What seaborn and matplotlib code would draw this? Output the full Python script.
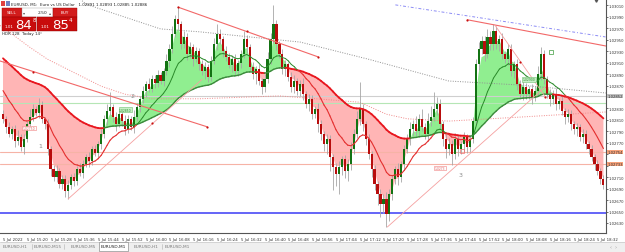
import numpy as np
import pandas as pd
import matplotlib
matplotlib.use("Agg")
import matplotlib.pyplot as plt
import seaborn as sns
from matplotlib.collections import LineCollection
from matplotlib.patches import Rectangle

# ---------------- data (prices given in points above 1.02600) ----------------
BASE = 1.02600
first_open = 220
closes = [
    211, 197, 185, 194, 173, 180, 162, 176, 203, 215,
    229, 222, 236, 211, 203, 159, 124, 110, 121, 98,
    107, 86, 96, 110, 103, 124, 117, 133, 145, 138,
    159, 152, 168, 185, 211, 225, 232, 215, 203, 220,
    208, 194, 211, 197, 215, 232, 246, 260, 272, 264,
    281, 274, 288, 278, 295, 313, 334, 360, 386, 377,
    342, 355, 325, 337, 316, 330, 307, 295, 302, 285,
    313, 342, 360, 351, 330, 320, 306, 316, 295, 309,
    325, 351, 337, 302, 290, 299, 278, 267, 281, 316,
    351, 377, 342, 325, 299, 307, 285, 267, 278, 260,
    272, 255, 238, 246, 220, 229, 203, 185, 168, 176,
    145, 128, 115, 128, 141, 121, 133, 159, 185, 211,
    229, 203, 176, 150, 124, 98, 80, 63, 72, 45,
    80, 107, 124, 110, 133, 159, 176, 194, 203, 190,
    211, 197, 185, 208, 215, 229, 238, 203, 176, 159,
    168, 150, 176, 159, 168, 180, 162, 176, 208, 307,
    334, 348, 325, 355, 342, 365, 342, 351, 325, 316,
    334, 295, 307, 272, 255, 267, 255, 264, 250, 260,
    290, 325, 281, 255, 246, 255, 238, 243, 225, 215,
    220, 203, 194, 197, 180, 185, 168, 159, 145, 133,
    121, 107, 96]
wick_hi = [
    8, 6, 10, 5, 7, 12, 6, 9, 5, 14,
    8, 6, 12, 7, 5, 9, 6, 8, 10, 5,
    7, 6, 9, 5, 8, 6, 10, 7, 5, 9,
    6, 8, 5, 10, 7, 12, 27, 6, 9, 8,
    5, 10, 7, 6, 12, 8, 5, 9, 6, 11,
    7, 8, 10, 6, 5, 12, 9, 14, 8, 21,
    6, 10, 7, 9, 5, 8, 6, 7, 10, 5,
    9, 12, 17, 8, 6, 10, 7, 5, 9, 6,
    8, 14, 7, 6, 10, 5, 8, 6, 9, 12,
    10, 33, 8, 6, 9, 7, 5, 8, 10, 6,
    7, 12, 6, 9, 8, 5, 10, 7, 6, 9,
    8, 5, 7, 10, 6, 8, 9, 12, 10, 14,
    47, 8, 6, 9, 5, 7, 6, 10, 8, 12,
    9, 7, 6, 10, 5, 8, 9, 12, 7, 14,
    10, 18, 8, 15, 20, 30, 12, 8, 6, 9,
    10, 7, 12, 8, 6, 9, 5, 8, 7, 10,
    12, 9, 8, 14, 10, 12, 9, 7, 10, 6,
    8, 9, 6, 10, 7, 12, 8, 6, 9, 10,
    14, 12, 8, 6, 9, 7, 10, 5, 8, 6,
    9, 7, 5, 8, 6, 10, 7, 5, 8, 6,
    7, 5, 6]
wick_lo = [
    6, 9, 5, 8, 10, 6, 7, 12, 5, 8,
    7, 5, 9, 6, 8, 10, 12, 7, 9, 6,
    8, 10, 14, 6, 9, 7, 5, 8, 6, 10,
    7, 5, 9, 8, 6, 10, 7, 9, 12, 6,
    8, 10, 7, 5, 9, 6, 8, 7, 10, 5,
    6, 9, 7, 5, 8, 6, 10, 7, 5, 9,
    8, 6, 10, 7, 12, 5, 9, 6, 14, 8,
    7, 6, 9, 8, 10, 7, 5, 12, 6, 9,
    8, 7, 10, 6, 9, 18, 7, 12, 8, 6,
    9, 7, 10, 6, 8, 12, 7, 9, 10, 6,
    8, 10, 7, 12, 9, 6, 14, 10, 12, 18,
    25, 40, 20, 35, 15, 12, 18, 10, 8, 6,
    9, 12, 10, 8, 14, 10, 18, 22, 15, 22,
    12, 10, 9, 14, 8, 10, 7, 9, 12, 8,
    10, 7, 9, 12, 8, 6, 10, 9, 12, 15,
    10, 18, 8, 12, 9, 14, 10, 8, 7, 6,
    10, 8, 12, 7, 9, 10, 8, 12, 9, 7,
    10, 8, 12, 9, 7, 10, 8, 9, 12, 7,
    8, 10, 9, 7, 12, 8, 10, 9, 7, 12,
    8, 10, 9, 12, 7, 10, 8, 9, 7, 10,
    8, 9, 7]

# moving-average settings and starting values read from the left edge
FAST_N, MID_N, SLOW_N = 3, 14, 50
mid_seed, slow_seed = 269, 322

# long dotted averages (bar index, points)
grey_ma_bar = [26, 28, 53, 66, 100, 123, 150, 174, 203]
grey_ma_pts = [421, 412, 369, 364, 346, 316, 278, 271, 257]
pink_ma_bar = [-1, 2, 9, 15, 33, 41, 50, 66, 93, 120, 129, 136, 150, 174, 203]
pink_ma_pts = [375, 364, 337, 316, 269, 255, 247, 247, 252, 241, 220, 212, 208, 215, 224]

# trend lines: bar0, pts0, bar1, pts1
trend_red = [(-1.0, 313, 68.7, 198), (58.9, 407, 106.1, 320), (156.2, 385, 203, 339)]
trend_pink = [(165.7, 374, 182.5, 250), (129.3, 23, 182.5, 268), (21.9, 72, 67, 281)]
trend_blue = (132, 411, 202.7, 355)
dot_bar = [68.7, 10.1, 58.9, 106.1, 82.0, 156.2, 174.0, 182.5, 50.2]
dot_pts = [198, 294, 407, 320, 366, 385, 311, 250, 205]

# horizontal lines (points)
hl_grey, hl_green, hl_sal1, hl_sal2, hl_blue = 252, 240, 154, 133, 47

# labels
wave_labels = ["1", "2", "3"]
wave_bar = [12.5, 43.4, 153.9]
wave_pts = [166, 253, 115]

x_tick_bars = list(range(0, 201, 8))
x_tick_labels = ["5 Jul 2022"] + [
    "5 Jul %d:%02d" % ((15 * 60 + 12 + b) // 60, (15 * 60 + 12 + b) % 60) for b in x_tick_bars[1:]]
y_tick_pts = list(range(30, 411, 20))
y_hidden_pts = [130, 150, 250]   # scale labels covered by the line price tags

tab_names = ["EURUSD,H1", "EURUSD,M15", "EURUSD,M5", "EURUSD,M1", "EURUSD,H1", "EURUSD,M1"]
tab_x0 = [3, 36, 71, 99, 135, 166]
tab_x1 = [28, 60, 95, 128, 158, 189]

# ---------------- helpers ----------------
def P(v):
    return BASE + np.asarray(v, dtype=float) / 1e5

def ema(vals, n, seed):
    a = 2.0 / (n + 1)
    out, prev = [], seed
    for v in vals:
        prev = prev + a * (v - prev)
        out.append(prev)
    return np.array(out)

n = len(closes)
idx = np.arange(n)
opens = [first_open] + closes[:-1]
c = np.array(closes, float)
o = np.array(opens, float)
hi = np.maximum(o, c) + np.array(wick_hi)
lo = np.minimum(o, c) - np.array(wick_lo)

fast = ema(closes, FAST_N, closes[0])
mid = ema(closes, MID_N, mid_seed)
slow = ema(closes, SLOW_N, slow_seed)

W, H = 625, 253
sns.set_style("white")
plt.rcParams["font.family"] = ["DejaVu Sans"]
fig = plt.figure(figsize=(W / 100, H / 100), dpi=100)
fig.patch.set_facecolor("white")

def fx(x):
    return x / W

def fy(y):
    return 1 - y / H

ax = fig.add_axes([0, fy(234), 605.5 / W, (234 - 0.5) / H])
ax.set_facecolor("white")
ax.set_xlim(-1.01, 202.7)
ax.set_ylim(P(30 - 10 * 1.7467), P(30 + 223.5 * 1.7467))

# fills between fast and slow average
up = fast >= slow
ax.fill_between(idx, P(fast), P(slow), where=up, interpolate=True, color="#90ee90", lw=0, zorder=1)
ax.fill_between(idx, P(fast), P(slow), where=~up, interpolate=True, color="#ffb5b5", lw=0, zorder=1)

# horizontal lines
ax.axhline(P(hl_grey), color="#cfcfcf", lw=0.8, zorder=1.5)
ax.axhline(P(hl_green), color="#b5e6b5", lw=0.8, zorder=1.5)
ax.axhline(P(hl_sal1), color="#f6b3a6", lw=0.8, zorder=1.5)
ax.axhline(P(hl_sal2), color="#f6b3a6", lw=0.8, zorder=1.5)
ax.axhline(P(hl_blue), color="#3b3bf5", lw=1.1, zorder=1.5)

# long dotted averages
sns.lineplot(x=grey_ma_bar, y=P(grey_ma_pts), ax=ax, color="#909090", lw=0.7,
             linestyle=(0, (1, 1.5)), zorder=2, legend=False)
sns.lineplot(x=pink_ma_bar, y=P(pink_ma_pts), ax=ax, color="#f08a8a", lw=0.7,
             linestyle=(0, (1, 1.5)), zorder=2, legend=False)

# candles
ax.vlines(idx, P(lo), P(hi), color="#a6a6a6", lw=0.6, zorder=3)
bull = c >= o
body_h = np.where(np.abs(c - o) < 1.5, 1.5, np.abs(c - o)) / 1e5
ax.bar(idx[bull], body_h[bull], bottom=P(np.minimum(o, c))[bull], width=0.72,
       color="#137313", lw=0, zorder=3.2)
ax.bar(idx[~bull], body_h[~bull], bottom=P(np.minimum(o, c))[~bull], width=0.72,
       color="#b80d0d", lw=0, zorder=3.2)

# coloured average lines
def colored_line(x, y, state, ct, cf, lwt, lwf, z):
    segs = [[(x[i], y[i]), (x[i + 1], y[i + 1])] for i in range(len(x) - 1)]
    cols = [ct if state[i + 1] else cf for i in range(len(x) - 1)]
    lws = [lwt if state[i + 1] else lwf for i in range(len(x) - 1)]
    ax.add_collection(LineCollection(segs, colors=cols, linewidths=lws, zorder=z, capstyle="round"))

colored_line(idx, P(slow), up, "#3c8c3c", "#e8161e", 1.0, 1.3, 4)
colored_line(idx, P(mid), mid >= slow, "#2a8a2a", "#e43030", 0.7, 0.8, 4.1)

# trend lines
for b0, p0, b1, p1 in trend_red:
    sns.lineplot(x=[b0, b1], y=P([p0, p1]), ax=ax, color="#f26868", lw=0.8, zorder=5, legend=False)
for b0, p0, b1, p1 in trend_pink:
    sns.lineplot(x=[b0, b1], y=P([p0, p1]), ax=ax, color="#f5a0a0", lw=0.6, zorder=5, legend=False)
b0, p0, b1, p1 = trend_blue
sns.lineplot(x=[b0, b1], y=P([p0, p1]), ax=ax, color="#8c8cf5", lw=0.7,
             linestyle=(0, (3, 2, 1, 2)), zorder=5, legend=False)
ax.scatter(dot_bar, P(dot_pts), s=2.5, color="#c81010", zorder=6, lw=0)

# wave labels
for t, b, p in zip(wave_labels, wave_bar, wave_pts):
    ax.text(b, P(p), t, fontsize=4.5, color="#8a8a8a", ha="center", va="center", zorder=6)

# small boxed markers
box_kw = dict(fontsize=2.2, ha="center", va="center", zorder=6)
ax.text(8.8, P(196), "1.02750", color="#e06060",
        bbox=dict(boxstyle="square,pad=0.15", fc="white", ec="#f08080", lw=0.4), **box_kw)
ax.text(41.2, P(228), "1.02850", color="#2a8a2a",
        bbox=dict(boxstyle="square,pad=0.15", fc="#c8f0c8", ec="#70c070", lw=0.4), **box_kw)
ax.text(177.0, P(281), "1.02900", color="#2a8a2a",
        bbox=dict(boxstyle="square,pad=0.15", fc="#c8f0c8", ec="#70c070", lw=0.4), **box_kw)
ax.text(147.0, P(126), "1.0273", color="#e06060",
        bbox=dict(boxstyle="square,pad=0.15", fc="white", ec="#f08080", lw=0.4), **box_kw)
ax.plot([154.5], [P(156)], marker="s", ms=2.5, mfc="none", mec="#f07070", mew=0.5, zorder=6)
ax.plot([184.5], [P(329)], marker="s", ms=3.2, mfc="none", mec="#3c9c3c", mew=0.5, zorder=6)

# axes styling
for s in ["left", "top"]:
    ax.spines[s].set_visible(False)
for s in ["right", "bottom"]:
    ax.spines[s].set_color("#555555")
    ax.spines[s].set_linewidth(0.8)
ax.yaxis.tick_right()
ax.set_yticks(P(y_tick_pts))
ax.set_yticklabels(["" if p in y_hidden_pts else "%.5f" % P(p) for p in y_tick_pts])
ax.set_xticks(x_tick_bars)
ax.set_xticklabels(x_tick_labels, ha="left")
ax.tick_params(axis="y", labelsize=2.7, length=1.5, width=0.5, pad=0.8, colors="#333333")
ax.tick_params(axis="x", labelsize=2.8, length=2, width=0.5, pad=0.8, colors="#333333")
ax.set_xlabel("")
ax.set_ylabel("")

# price labels for horizontal lines on the right scale
for p, fc in [(hl_grey, "#c0c0c0"), (hl_sal1, "#f7a27a"), (hl_sal2, "#f7a27a")]:
    ax.text(1.0035, P(p), "%.5f" % P(p), transform=ax.get_yaxis_transform(), fontsize=2.7,
            color="#333333", ha="left", va="center", zorder=7, clip_on=False,
            bbox=dict(boxstyle="square,pad=0.1", fc=fc, ec="none"))
ax.plot([0.985], [1.0], marker="v", ms=2.5, color="#555555", transform=ax.transAxes, clip_on=False)

# ---------------- figure furniture: trade panel, header, tabs ----------------
def frect(x0, y0, x1, y1, **kw):
    fig.patches.append(Rectangle((fx(x0), fy(y1)), fx(x1) - fx(x0), fy(y0) - fy(y1),
                                 transform=fig.transFigure, **kw))

frect(1, 2, 5, 7, fc="#e04040", ec="none", zorder=10)
frect(5.5, 2, 9.5, 7, fc="#7080c0", ec="none", zorder=10)
fig.text(fx(11), fy(4.6), "EURUSD, M1:  Euro vs US Dollar   1.02891 1.02893 1.02885 1.02886",
         fontsize=2.9, color="#222222", va="center", ha="left", zorder=11)
frect(2, 9, 22, 17.5, fc="#d21c1c", ec="#a00000", lw=0.3, zorder=10)
fig.text(fx(12), fy(13.2), "SELL", fontsize=3, color="white", ha="center", va="center", zorder=11)
frect(22, 9, 53, 17.5, fc="white", ec="#a0a0a0", lw=0.3, zorder=10)
fig.text(fx(24.5), fy(13.2), "\u25be", fontsize=3, color="#555555", ha="center", va="center", zorder=11)
fig.text(fx(43), fy(13.2), "2.50", fontsize=3.2, color="#222222", ha="center", va="center", zorder=11)
fig.text(fx(50.5), fy(13.2), "\u25b4", fontsize=3, color="#555555", ha="center", va="center", zorder=11)
frect(53, 9, 77, 17.5, fc="#d21c1c", ec="#a00000", lw=0.3, zorder=10)
fig.text(fx(65), fy(13.2), "BUY", fontsize=3, color="white", ha="center", va="center", zorder=11)
frect(2, 17.5, 35.5, 32, fc="#c80c0c", ec="#900000", lw=0.3, zorder=10)
frect(37, 17.5, 77, 32, fc="#c80c0c", ec="#900000", lw=0.3, zorder=10)
for xb, big, sup in [(3.0, "84", "8"), (39.5, "85", "4")]:
    fig.text(fx(xb + 1.5), fy(27.5), "1.01", fontsize=3.0, color="white", ha="left", va="center", zorder=11)
    fig.text(fx(xb + 12.5), fy(25.3), big, fontsize=9.5, color="white", ha="left", va="center", zorder=11)
    fig.text(fx(xb + 29.5), fy(21.0), sup, fontsize=4.0, color="white", ha="left", va="center", zorder=11)
fig.text(fx(2), fy(34.5), "HDR 128  Today 14\u00b0", fontsize=2.9, color="#222222",
         ha="left", va="center", zorder=11)

# tab bar
frect(0, 242.5, W, H, fc="#efefef", ec="none", zorder=9)
fig.lines.append(plt.Line2D([0, 1], [fy(242.5), fy(242.5)], transform=fig.transFigure,
                            color="#c8c8c8", lw=0.5, zorder=9.5))
for i, (t, x0, x1) in enumerate(zip(tab_names, tab_x0, tab_x1)):
    if t == "EURUSD,M1" and i == 3:
        frect(x0, 242.5, x1, 252, fc="white", ec="#777777", lw=0.4, zorder=9.6)
        col = "#222222"
    else:
        col = "#7a7a7a"
    fig.text(fx((x0 + x1) / 2), fy(247.3), t, fontsize=3.1, color=col, ha="center", va="center", zorder=11)
    if i < len(tab_names) - 1 and i not in (2, 3):
        fig.lines.append(plt.Line2D([fx(x1 + 3.5)] * 2, [fy(245), fy(250)], transform=fig.transFigure,
                                    color="#b0b0b0", lw=0.4, zorder=9.7))
fig.text(fx(613), fy(247.5), "\u2039  \u203a", fontsize=3.5, color="#9a9a9a", ha="center",
         va="center", zorder=11)

fig.savefig("out.png", dpi=100, facecolor="white")
